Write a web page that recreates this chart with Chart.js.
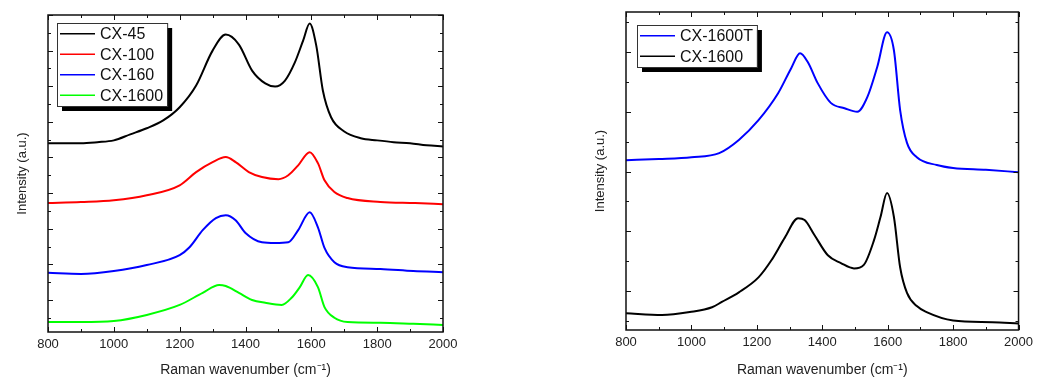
<!DOCTYPE html>
<html lang="en">
<head>
<meta charset="UTF-8" />
<title>Raman spectra</title>
<script src="https://cdn.jsdelivr.net/npm/chart.js@4.4.0/dist/chart.umd.min.js"></script>
<style>
  html, body { margin: 0; padding: 0; background: #fff; }
  .wrap { display: flex; width: 1038px; height: 379px; }
  .box { position: relative; width: 519px; height: 379px; }
</style>
</head>
<body>
<div class="wrap">
  <div class="box"><canvas id="chart1"></canvas></div>
  <div class="box"><canvas id="chart2"></canvas></div>
</div>
<script>
// left panel: stacked spectra (offset, a.u.)
const cx45Wn  = [800, 900, 950, 1000, 1050, 1100, 1150, 1200, 1250, 1300, 1340, 1380, 1420, 1460, 1490, 1520, 1550, 1575, 1595, 1615, 1635, 1660, 1700, 1750, 1800, 1850, 1900, 1950, 2000];
const cx45Int = [4.40, 4.40, 4.43, 4.48, 4.65, 4.82, 5.04, 5.41, 6.02, 7.00, 7.45, 7.17, 6.44, 6.08, 5.99, 6.16, 6.67, 7.28, 7.76, 7.14, 5.88, 5.13, 4.73, 4.54, 4.48, 4.43, 4.40, 4.34, 4.31];

const cx100Wn  = [800, 900, 1000, 1100, 1200, 1250, 1300, 1340, 1370, 1410, 1450, 1500, 1530, 1560, 1595, 1620, 1640, 1670, 1710, 1810, 1915, 2000];
const cx100Int = [2.72, 2.75, 2.80, 2.94, 3.22, 3.59, 3.87, 4.01, 3.87, 3.59, 3.45, 3.39, 3.50, 3.78, 4.15, 3.84, 3.36, 3.03, 2.86, 2.75, 2.72, 2.69];

const cx160Wn  = [800, 900, 1000, 1100, 1200, 1230, 1270, 1310, 1340, 1370, 1400, 1450, 1490, 1530, 1560, 1595, 1620, 1640, 1670, 1710, 1810, 1910, 2000];
const cx160Int = [0.76, 0.73, 0.81, 0.98, 1.26, 1.48, 1.96, 2.30, 2.38, 2.24, 1.88, 1.62, 1.60, 1.62, 1.96, 2.46, 2.04, 1.46, 1.06, 0.92, 0.87, 0.81, 0.78];

const cx1600Wn  = [800, 900, 1000, 1100, 1200, 1270, 1320, 1340, 1380, 1420, 1460, 1510, 1540, 1565, 1590, 1620, 1640, 1670, 1710, 1810, 1910, 2000];
const cx1600Int = [-0.62, -0.62, -0.59, -0.42, -0.14, 0.20, 0.42, 0.39, 0.20, 0.00, -0.08, -0.14, 0.06, 0.36, 0.70, 0.36, -0.20, -0.50, -0.62, -0.64, -0.67, -0.70];

// right panel
const cx1600tWn  = [800, 900, 1000, 1085, 1145, 1205, 1265, 1305, 1332, 1356, 1386, 1426, 1468, 1507, 1538, 1568, 1598, 1619, 1638, 1659, 1689, 1750, 1800, 1900, 2000];
const cx1600tInt = [2.19, 2.21, 2.24, 2.31, 2.53, 2.86, 3.31, 3.73, 3.98, 3.83, 3.48, 3.15, 3.06, 3.00, 3.25, 3.75, 4.33, 4.03, 3.03, 2.48, 2.24, 2.11, 2.06, 2.03, 1.99];

const cx1600bWn  = [800, 910, 995, 1063, 1093, 1145, 1205, 1245, 1286, 1326, 1346, 1376, 1417, 1457, 1497, 1527, 1558, 1578, 1598, 1619, 1638, 1659, 1689, 1719, 1800, 1920, 2000];
const cx1600bInt = [-0.37, -0.40, -0.35, -0.27, -0.18, -0.02, 0.23, 0.52, 0.90, 1.22, 1.19, 0.94, 0.60, 0.47, 0.38, 0.44, 0.85, 1.24, 1.64, 1.24, 0.40, -0.03, -0.25, -0.35, -0.49, -0.52, -0.54];

const xTickLabels = [800, 1000, 1200, 1400, 1600, 1800, 2000];

function pts(xs, ys) {
  return xs.map((x, i) => ({ x: x, y: ys[i] }));
}

function series(label, color, xs, ys) {
  return {
    label: label,
    data: pts(xs, ys),
    borderColor: color,
    backgroundColor: color,
    borderWidth: 2,
    pointRadius: 0,
    cubicInterpolationMode: "monotone",
  };
}

// box frame with inward ticks on all four sides
const frameTicks = {
  id: "frameTicks",
  afterDatasetsDraw(chart, args, opts) {
    const { ctx, chartArea: a, scales } = chart;
    const x = scales.x, y = scales.y;
    ctx.save();
    ctx.strokeStyle = "#111";
    ctx.lineWidth = 1;
    const isMajor = (v, step) => Math.abs(v / step - Math.round(v / step)) < 1e-6;
    ctx.beginPath();
    for (let v = 800; v <= 2000; v += 100) {
      const px = Math.round(x.getPixelForValue(v)) + 0.5;
      const len = isMajor(v, 200) ? 5 : 3;
      ctx.moveTo(px, a.bottom); ctx.lineTo(px, a.bottom - len);
      ctx.moveTo(px, a.top); ctx.lineTo(px, a.top + len);
    }
    let v = Math.ceil(y.min / 0.5) * 0.5;
    for (; v <= y.max; v += 0.5) {
      const py = Math.round(y.getPixelForValue(v)) + 0.5;
      const len = isMajor(v, 1) ? 5 : 3;
      ctx.moveTo(a.left, py); ctx.lineTo(a.left + len, py);
      ctx.moveTo(a.right, py); ctx.lineTo(a.right - len, py);
    }
    ctx.stroke();
    ctx.lineWidth = 1.5;
    ctx.strokeRect(a.left, a.top, a.right - a.left, a.bottom - a.top);
    ctx.restore();
  },
};

// legend box with drop shadow, drawn inside the plot
const boxLegend = {
  id: "boxLegend",
  afterDraw(chart, args, opts) {
    const { ctx, chartArea: a } = chart;
    const sets = chart.data.datasets;
    const bx = a.left + opts.dx, by = a.top + opts.dy;
    const rowH = opts.rowH;
    ctx.save();
    ctx.font = "16px 'Liberation Sans', Arial, sans-serif";
    let tw = 0;
    sets.forEach((d) => { tw = Math.max(tw, ctx.measureText(d.label).width); });
    const w = 43 + tw + 4, h = sets.length * rowH + 1;
    ctx.fillStyle = "#000";
    ctx.fillRect(bx + 5, by + 5, w, h);
    ctx.fillStyle = "#fff";
    ctx.fillRect(bx, by, w, h);
    ctx.strokeStyle = "#333";
    ctx.lineWidth = 1;
    ctx.strokeRect(bx + 0.5, by + 0.5, w, h);
    ctx.textBaseline = "middle";
    sets.forEach((d, i) => {
      const ry = by + 0.5 + rowH * (i + 0.5);
      ctx.strokeStyle = d.borderColor;
      ctx.lineWidth = 1.5;
      ctx.beginPath();
      ctx.moveTo(bx + 3, ry); ctx.lineTo(bx + 38, ry);
      ctx.stroke();
      ctx.fillStyle = "#111";
      ctx.fillText(d.label, bx + 43, ry + 1);
    });
    ctx.restore();
  },
};

function makeOptions(yMin, yMax, pad, xAxisH, legendPos) {
  return {
    responsive: false,
    animation: false,
    layout: { padding: pad },
    plugins: {
      legend: { display: false },
      tooltip: { enabled: false },
      boxLegend: legendPos,
    },
    scales: {
      x: {
        type: "linear",
        min: 800,
        max: 2000,
        grid: { display: false, drawTicks: false },
        border: { display: false },
        afterFit: (s) => { s.height = xAxisH; },
        afterBuildTicks: (s) => { s.ticks = xTickLabels.map((v) => ({ value: v })); },
        ticks: {
          color: "#222",
          padding: 5,
          callback: (v) => String(v),
          font: { family: "'Liberation Sans', Arial, sans-serif", size: 13 },
        },
        title: {
          display: true,
          text: "Raman wavenumber (cm\u207B\u00B9)",
          color: "#222",
          padding: { top: 2, bottom: 0 },
          font: { family: "'Liberation Sans', Arial, sans-serif", size: 14 },
        },
      },
      y: {
        min: yMin,
        max: yMax,
        grid: { display: false, drawTicks: false },
        border: { display: false },
        afterFit: (s) => { s.width = 48; },
        ticks: { display: false },
        title: {
          display: true,
          text: "Intensity (a.u.)",
          color: "#222",
          padding: { top: 15, bottom: 0 },
          font: { family: "'Liberation Sans', Arial, sans-serif", size: 13 },
        },
      },
    },
  };
}

const c1 = document.getElementById("chart1");
c1.width = 519; c1.height = 379;
new Chart(c1.getContext("2d"), {
  type: "line",
  data: {
    datasets: [
      series("CX-45", "#000000", cx45Wn, cx45Int),
      series("CX-100", "#ff0000", cx100Wn, cx100Int),
      series("CX-160", "#0000ff", cx160Wn, cx160Int),
      series("CX-1600", "#00ff00", cx1600Wn, cx1600Int),
    ],
  },
  options: makeOptions(-0.9, 8, { left: 0, right: 76, top: 15, bottom: 0 }, 47, { dx: 9, dy: 8, rowH: 20.5 }),
  plugins: [frameTicks, boxLegend],
});

const c2 = document.getElementById("chart2");
c2.width = 519; c2.height = 379;
new Chart(c2.getContext("2d"), {
  type: "line",
  data: {
    datasets: [
      series("CX-1600T", "#0000ff", cx1600tWn, cx1600tInt),
      series("CX-1600", "#000000", cx1600bWn, cx1600bInt),
    ],
  },
  options: makeOptions(-0.65, 4.67, { left: 59, right: 15, top: 12, bottom: 0 }, 49, { dx: 11, dy: 13, rowH: 20.5 }),
  plugins: [frameTicks, boxLegend],
});
</script>
</body>
</html>
